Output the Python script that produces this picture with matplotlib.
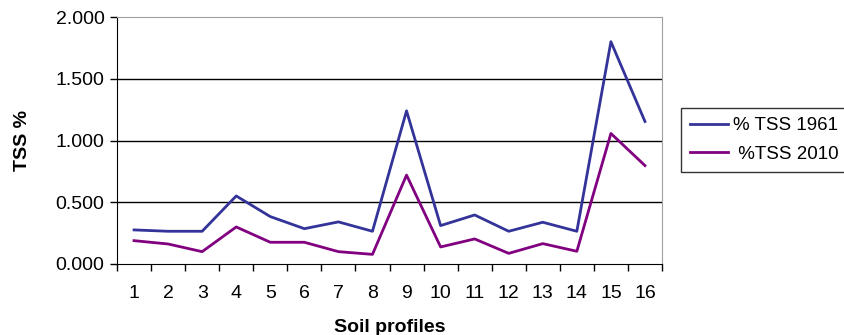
import matplotlib.pyplot as plt
import numpy as np

plt.rcParams['font.family'] = ['Liberation Sans', 'DejaVu Sans']

profiles = list(range(1, 17))
tss_1961 = [0.276, 0.265, 0.265, 0.551, 0.384, 0.286, 0.341, 0.265,
            1.240, 0.311, 0.397, 0.265, 0.338, 0.265, 1.800, 1.154]
tss_2010 = [0.189, 0.162, 0.100, 0.300, 0.176, 0.176, 0.100, 0.078,
            0.720, 0.138, 0.203, 0.086, 0.165, 0.103, 1.057, 0.797]

fig = plt.figure(figsize=(8.44, 3.35), dpi=100)
ax = fig.add_axes([117/844, 71/335, 545/844, 247/335])

ax.plot(profiles, tss_1961, color='#333399', lw=2, label='% TSS 1961')
ax.plot(profiles, tss_2010, color='#800080', lw=2, label=' %TSS 2010')

ax.set_xlim(0.5, 16.5)
ax.set_ylim(0, 2.0)

# category boundaries carry the tick marks, labels sit in between
ax.set_xticks(np.arange(0.5, 17, 1))
ax.set_xticklabels([])
ax.set_xticks(profiles, minor=True)
ax.set_xticklabels([str(p) for p in profiles], minor=True, fontsize=14)
ax.tick_params(axis='x', which='minor', length=0, pad=15)
ax.tick_params(axis='x', which='major', length=5, width=1, direction='out')

ax.set_yticks([0, 0.5, 1.0, 1.5, 2.0])
ax.set_yticklabels([f'{v:.3f}' for v in [0, 0.5, 1.0, 1.5, 2.0]], fontsize=14)
ax.tick_params(axis='y', length=5, width=1, direction='out', pad=4)

for y in [0.5, 1.0, 1.5]:
    ax.axhline(y, color='black', lw=1, zorder=0)

ax.spines['top'].set_color('#a0a0a0')
ax.spines['right'].set_color('#a0a0a0')
ax.spines['left'].set_color('black')
ax.spines['bottom'].set_color('black')

ax.set_xlabel('Soil profiles', fontsize=14, fontweight='bold', labelpad=12)
ax.set_ylabel('TSS %', fontsize=14, fontweight='bold', labelpad=18)

leg = fig.legend(loc='upper left', bbox_to_anchor=(681/844, 1 - 108/335),
                 borderaxespad=0, fontsize=13.5, frameon=True, fancybox=False,
                 handlelength=2.0, handletextpad=0.25, borderpad=0.5,
                 labelspacing=0.6)
leg.get_frame().set_edgecolor('black')
leg.get_frame().set_linewidth(1)

fig.savefig('out.png', dpi=100)
